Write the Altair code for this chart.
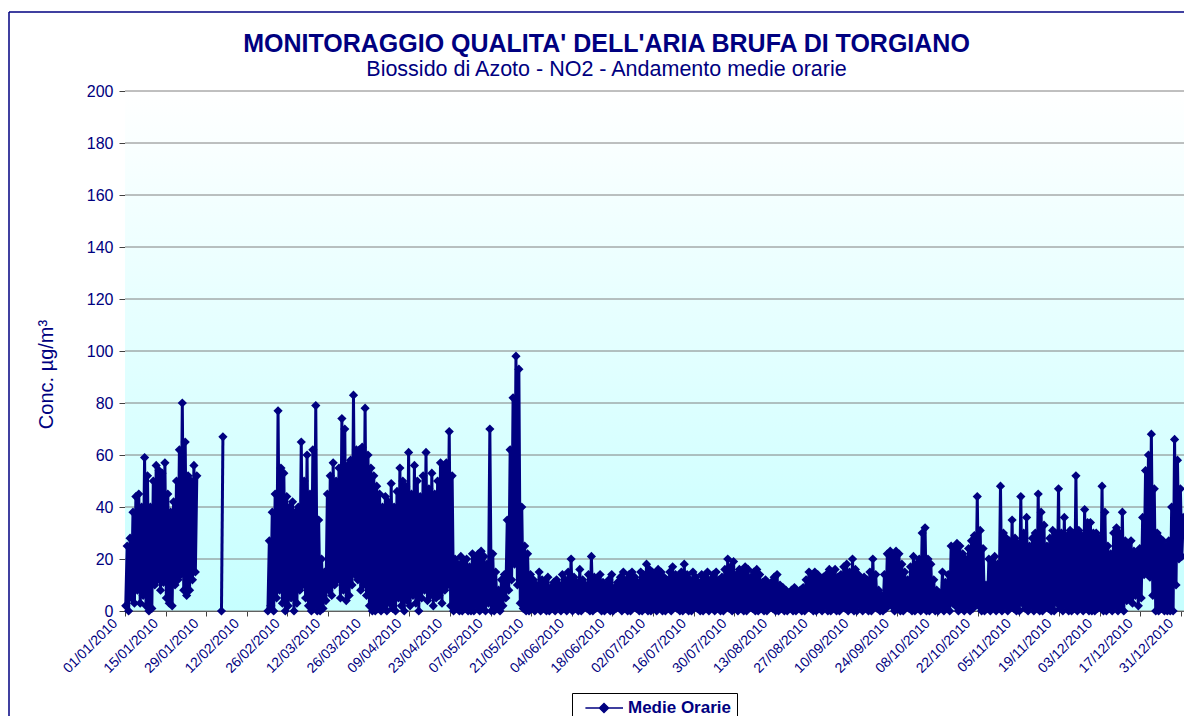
import altair as alt
import pandas as pd

# ---- daily low / high of the hourly NO2 means (µg/m³) ----
jan_hi = [25, 28, 38, 44, 45, 40, 59, 52, 40, 50, 56, 54, 53, 57, 45, 38, 42, 50, 62, 80, 65, 52, 50, 56, 52,
          None, None, None, None, None, None]
jan_lo = [2, 0, 5, 3, 8, 3, 6, 2, 0, 1, 10, 12, 8, 11, 5, 3, 2, 10, 12, 14, 8, 6, 8, 12, 15,
          None, None, None, None, None, None]
feb_hi = [None, None, 67] + [None] * 15 + [27, 38, 45, 77, 55, 53, 44, 40, 42, 38]
feb_lo = [None, None, 0] + [None] * 15 + [0, 2, 0, 5, 8, 3, 0, 2, 5, 0]
mar_hi = [40, 65, 50, 60, 45, 62, 79, 35, 20, 15, 45, 52, 57, 50, 55, 74, 70, 56, 58, 83,
          62, 62, 63, 78, 60, 55, 52, 48, 45, 40, 44]
mar_lo = [3, 8, 10, 5, 2, 0, 2, 0, 0, 1, 4, 8, 6, 10, 12, 5, 8, 4, 6, 10,
          14, 12, 8, 10, 6, 2, 0, 0, 1, 0, 2]
apr_hi = [42, 49, 40, 46, 55, 50, 48, 61, 45, 56, 50, 44, 52, 61, 47, 53, 45, 50, 57, 55,
          57, 69, 52, 20, 18, 21, 19, 20, 17, 22]
apr_lo = [0, 3, 1, 0, 5, 2, 0, 4, 2, 6, 3, 0, 5, 8, 4, 6, 2, 5, 6, 3,
          8, 10, 2, 0, 1, 0, 0, 1, 0, 0]
may_hi = [20, 22, 23, 21, 18, 70, 22, 15, 8, 12, 14, 35, 62, 82, 98, 93, 40, 25, 22, 14,
          12, 10, 15, 12, 11, 13, 9, 11, 12, 10, 14]
may_lo = [0, 2, 0, 1, 0, 3, 0, 0, 1, 0, 2, 5, 8, 12, 18, 10, 3, 1, 0, 0,
          1, 0, 2, 0, 1, 0, 0, 1, 0, 2, 0]
jun_hi = [12, 15, 20, 13, 11, 16, 12, 10, 14, 21, 13, 12, 14, 11, 10, 12, 14, 9, 11, 13,
          15, 12, 14, 15, 13, 11, 15, 14, 18, 16]
jun_lo = [1, 0, 2, 0, 1, 0, 0, 2, 1, 0, 0, 1, 2, 0, 0, 1, 0, 0, 1, 2,
          0, 1, 0, 0, 2, 1, 0, 0, 1, 0]
jul_hi = [15, 14, 16, 15, 13, 12, 15, 17, 14, 13, 15, 18, 14, 12, 15, 13, 11, 14, 13, 15,
          12, 14, 15, 12, 13, 16, 20, 17, 19, 14, 16]
jul_lo = [0, 1, 0, 2, 0, 0, 1, 0, 2, 1, 0, 0, 1, 0, 0, 2, 1, 0, 0, 1,
          0, 2, 0, 1, 0, 0, 2, 1, 0, 1, 0]
aug_hi = [15, 17, 16, 13, 15, 16, 14, 11, 12, 10, 11, 13, 14, 10, 9, 8, 7, 8, 9, 7,
          8, 9, 12, 15, 13, 15, 14, 12, 13, 14, 16]
aug_lo = [1, 0, 0, 2, 1, 0, 0, 1, 0, 0, 2, 1, 0, 0, 1, 0, 0, 1, 0, 0,
          1, 0, 0, 2, 1, 0, 0, 1, 0, 2, 0]
sep_hi = [15, 16, 13, 14, 17, 18, 15, 20, 16, 14, 12, 13, 12, 15, 20, 14, 8, 6, 14, 22,
          23, 21, 23, 22, 18, 15, 12, 17, 21, 18]
sep_lo = [0, 1, 0, 0, 2, 1, 0, 1, 0, 0, 2, 0, 1, 0, 0, 2, 1, 0, 0, 1,
          3, 2, 0, 1, 0, 0, 2, 1, 0, 0]
oct_hi = [20, 30, 32, 20, 18, 12, 8, 7, 15, 11, 14, 25, 24, 26, 25, 22, 20, 24, 27, 29,
          44, 31, 24, 10, 20, 19, 21, 18, 48, 30, 28]
oct_lo = [1, 0, 2, 0, 0, 1, 0, 0, 2, 0, 1, 0, 3, 2, 0, 1, 0, 2, 0, 1,
          3, 2, 0, 0, 1, 0, 2, 0, 1, 0, 2]
nov_hi = [27, 35, 28, 26, 44, 30, 36, 25, 28, 30, 45, 38, 33, 25, 28, 31, 30, 47, 30, 36,
          29, 31, 30, 52, 31, 29, 39, 34, 34, 30]
nov_lo = [0, 2, 1, 0, 0, 3, 1, 0, 2, 0, 1, 0, 0, 2, 1, 0, 0, 3, 1, 0,
          2, 0, 0, 1, 0, 2, 0, 1, 0, 0]
dec_hi = [30, 28, 48, 38, 25, 22, 30, 32, 30, 38, 27, 26, 27, 23, 22, 24, 36, 54, 60, 68,
          47, 30, 28, 27, 25, 27, 40, 66, 58, 47, 36]
dec_lo = [0, 1, 2, 0, 0, 1, 0, 2, 0, 1, 0, 4, 5, 3, 6, 2, 5, 14, 15, 13,
          6, 0, 0, 1, 0, 0, 0, 0, 10, 20, 21]

tick_labels = ["01/01/2010", "15/01/2010", "29/01/2010", "12/02/2010", "26/02/2010",
               "12/03/2010", "26/03/2010", "09/04/2010", "23/04/2010", "07/05/2010",
               "21/05/2010", "04/06/2010", "18/06/2010", "02/07/2010", "16/07/2010",
               "30/07/2010", "13/08/2010", "27/08/2010", "10/09/2010", "24/09/2010",
               "08/10/2010", "22/10/2010", "05/11/2010", "19/11/2010", "03/12/2010",
               "17/12/2010", "31/12/2010"]
y_ticks = [0, 20, 40, 60, 80, 100, 120, 140, 160, 180, 200]
series_name = "Medie Orarie"

hi = sum([jan_hi, feb_hi, mar_hi, apr_hi, may_hi, jun_hi, jul_hi, aug_hi, sep_hi, oct_hi, nov_hi, dec_hi], [])
lo = sum([jan_lo, feb_lo, mar_lo, apr_lo, may_lo, jun_lo, jul_lo, aug_lo, sep_lo, oct_lo, nov_lo, dec_lo], [])
assert len(hi) == 365 and len(lo) == 365, (len(hi), len(lo))

rows = []
seg = 0
gap = False
for d in range(365):
    if hi[d] is None:
        gap = True
        continue
    if gap:
        seg += 1
        gap = False
    rows.append({"t": d + 0.25, "v": lo[d], "seg": seg, "series": series_name})
    rows.append({"t": d + 0.75, "v": hi[d], "seg": seg, "series": series_name})
df = pd.DataFrame(rows)

NAVY = "#000080"
FONT = "Liberation Sans"
PW, PH = 1059, 520

tick_days = [14 * i for i in range(len(tick_labels))]
label_arr = "[" + ",".join("'" + s + "'" for s in tick_labels) + "]"

x_scale = alt.Scale(domain=[0, 365], nice=False, zero=False)
y_scale = alt.Scale(domain=[0, 200], nice=False)
x_axis = alt.Axis(values=tick_days, labelExpr=label_arr + "[round(datum.value/14)]",
                  labelAngle=315, labelAlign="right", labelBaseline="top",
                  labelOffset=-15, labelPadding=0, labelFontSize=14, labelFont=FONT,
                  labelColor=NAVY, labelFlush=False, labelOverlap=False, tickSize=5,
                  tickColor="#404040", domainColor="#404040", grid=False, title=None)
y_axis = alt.Axis(values=y_ticks, labelFontSize=16, labelFont=FONT, labelColor=NAVY,
                  labelPadding=6, tickSize=6, tickColor="#404040", domainColor="#404040",
                  grid=False, title="Conc.  µg/m³", titleFont=FONT, titleFontSize=20,
                  titleFontWeight="normal", titleColor=NAVY, titleX=-79, titleY=283,
                  titleAlign="center", titleBaseline="middle")

gradient = alt.Gradient(gradient="linear",
                        stops=[alt.GradientStop(color="#ffffff", offset=0),
                               alt.GradientStop(color="#c6ffff", offset=1)],
                        x1=0, x2=0, y1=0, y2=1)

bg_df = pd.DataFrame({"t0": [0], "t1": [365], "v0": [0], "v1": [200]})
bg = alt.Chart(bg_df).mark_rect(fill=gradient).encode(
    x=alt.X("t0:Q", scale=x_scale, axis=x_axis), x2="t1",
    y=alt.Y("v0:Q", scale=y_scale, axis=y_axis), y2="v1")

grid_df = pd.DataFrame({"g": y_ticks})
grid = alt.Chart(grid_df).mark_rule(color="#808080", strokeWidth=1).encode(
    y=alt.Y("g:Q", scale=y_scale, axis=y_axis))

legend_path = "M-0.2,0L4.5,0M1.56,0L2.125,-0.56L2.69,0L2.125,0.56Z"
line = alt.Chart(df).mark_line(strokeWidth=3).encode(
    x=alt.X("t:Q", scale=x_scale, axis=x_axis),
    y=alt.Y("v:Q", scale=y_scale, axis=y_axis),
    detail="seg:N",
    color=alt.Color("series:N", scale=alt.Scale(range=[NAVY]),
                    legend=alt.Legend(title=None, orient="none", legendX=447, legendY=602,
                                      symbolType=legend_path, symbolSize=256,
                                      symbolStrokeColor=NAVY, symbolFillColor=NAVY,
                                      symbolStrokeWidth=1.5, labelFont=FONT,
                                      labelFontSize=17, labelFontWeight="bold",
                                      labelColor=NAVY, labelOffset=32, padding=6,
                                      strokeColor="#000000", fillColor="#ffffff")))

points = alt.Chart(df).mark_point(shape="diamond", filled=True, size=85, color=NAVY, opacity=1).encode(
    x=alt.X("t:Q", scale=x_scale, axis=x_axis),
    y=alt.Y("v:Q", scale=y_scale, axis=y_axis))

frame_df = pd.DataFrame({"k": [0]})
frame_top = alt.Chart(frame_df).mark_rule(color=NAVY, strokeWidth=1.5).encode(
    x=alt.value(-116), x2=alt.value(PW + 2), y=alt.value(-79))
frame_left = alt.Chart(frame_df).mark_rule(color=NAVY, strokeWidth=1.5).encode(
    x=alt.value(-116), y=alt.value(-79), y2=alt.value(640))

chart = alt.layer(bg, grid, line, points, frame_top, frame_left).properties(
    width=PW, height=PH,
    title=alt.TitleParams(text="MONITORAGGIO QUALITA' DELL'ARIA  BRUFA DI TORGIANO",
                          subtitle="Biossido di Azoto - NO2 - Andamento medie orarie",
                          font=FONT, fontSize=25, fontWeight="bold", color=NAVY,
                          subtitleFont=FONT, subtitleFontSize=21.5, subtitleColor=NAVY,
                          anchor="middle", frame="group", dx=-48, dy=77, offset=8,
                          subtitlePadding=2),
    autosize=alt.AutoSizeParams(type="none"),
    padding={"left": 117, "top": 83, "right": 0, "bottom": 105},
).configure_view(stroke="#808080", strokeWidth=1).configure(
    font=FONT, background="#ffffff")

chart.save("out.html", embed_options={"renderer": "svg", "actions": False})
